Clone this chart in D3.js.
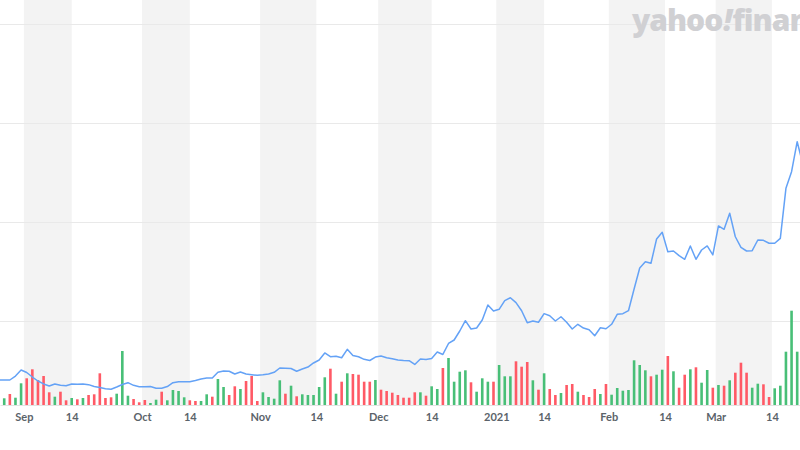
<!DOCTYPE html>
<html><head><meta charset="utf-8">
<script src="https://cdn.jsdelivr.net/npm/d3@7"></script>
<style>body{margin:0;background:#fff}svg{display:block}</style>
</head><body><svg id="c" width="800" height="450"></svg>
<script>
// Trading-day index 0 = 2020-08-25
const closePrice = [
 3.99,3.99,3.99,4.39,5.00,4.75,4.29,3.89,3.59,3.38,
 3.59,3.45,3.41,3.59,3.57,3.59,3.52,3.33,3.23,3.11,
 3.05,3.28,3.54,3.72,3.45,3.31,3.31,3.33,3.15,3.15,
 3.33,3.72,3.82,3.82,3.82,3.94,4.09,4.19,4.19,4.77,
 4.90,4.87,4.60,4.80,4.60,4.53,4.46,4.52,4.60,4.77,
 5.20,5.17,5.15,4.87,5.10,5.30,5.71,6.01,6.72,6.34,
 6.38,6.24,7.09,6.46,6.34,6.08,5.96,6.31,6.41,6.24,
 6.14,6.01,5.96,5.94,5.56,6.11,6.06,6.16,6.82,6.57,
 7.68,8.03,8.94,9.98,9.14,9.24,10.05,11.57,10.96,11.13,
 12.00,12.30,11.80,10.99,9.78,9.95,9.82,10.69,10.48,9.95,
 10.38,9.82,9.14,9.62,9.24,9.07,8.46,9.27,9.17,9.62,
 10.63,10.69,10.99,13.18,15.30,15.94,15.78,18.23,18.91,16.95,
 17.02,16.55,16.18,17.53,16.18,17.12,17.53,16.62,19.55,19.21,
 20.83,18.46,17.39,17.02,17.05,18.13,18.10,17.80,17.80,18.30,
 23.35,25.03,28.06,25.81
];
const volume = [
 8,6.7,11,7.3,21.7,26.7,35.7,25,29,12.7,
 8.3,13.3,4.7,7,5.7,7,10,10.7,31.7,7,
 7.7,11.3,54,9.3,6,2.7,5,2,5.3,13.3,
 4.7,15,14,7.7,4.7,4,4,10.7,8.3,26,
 18,10,18.7,16,24,29,4,12.7,8,6.3,
 24.7,11.3,19.3,8.7,10.7,10,10,18,27.7,36.3,
 11.3,23.3,31.7,31,30.3,23.3,23.3,25,15.3,14,
 12.3,10,7.3,7.3,12.7,12.7,9.3,18.7,16,37,
 47,23.3,33.3,34.7,22.7,13.3,26.7,23.3,23.3,40,
 28.7,28.7,43.7,38.3,43,24.7,15.3,31.7,16,10,
 12,20,21,13.3,10,8,16,11,21,10.3,
 17,14.3,15,44.7,40,34.7,28.7,30.3,35.3,49,
 33.7,17.3,30.3,35.7,37.7,22.3,35,17.3,20,19.3,
 24.7,32.3,42.3,32.3,17.3,21.3,20.7,8,16.7,19.3,
 53.3,94.3,53.3,40
];
// 1 = up day (green), 0 = down day (red)
const volumeUp = [
 1,1,0,1,1,0,0,0,0,0,
 1,0,0,1,0,1,0,0,0,0,
 0,1,1,1,0,0,0,1,1,0,
 1,1,1,1,0,0,1,1,0,1,
 1,0,0,1,0,0,0,1,1,1,
 1,0,1,0,1,1,1,1,1,0,
 1,0,1,0,0,0,0,1,0,0,
 0,0,0,0,0,1,0,1,1,0,
 1,1,1,1,0,1,1,1,0,1,
 1,1,0,0,0,1,0,1,0,0,
 1,0,0,1,0,0,0,1,0,1,
 1,1,1,1,1,1,0,1,1,0,
 1,0,0,1,0,1,1,0,1,0,
 1,0,0,0,1,1,0,0,1,1,
 1,1,1,0
];
const tickLabels = ["Sep","14","Oct","14","Nov","14","Dec","14","2021","14","Feb","14","Mar","14"];
const tickIndex  = [4.5,13,25.5,34,46.5,56.5,67.5,77,88.5,97,108.5,118.5,127.5,137.5];
const priceGrid = [10,20,30,40];

const W = 800, H = 450;
const svg = d3.select("#c");
const x = d3.scaleLinear().domain([0.25, 142.5]).range([0, W]);
const y = d3.scaleLinear().domain([0, 40]).range([419.5, 23.5]);
const base = 405;
const yv = d3.scaleLinear().domain([0, 100]).range([base, base - 100]);

// shaded half-month bands
const bands = [];
for (let i = 0; i < tickIndex.length; i += 2) bands.push([tickIndex[i], tickIndex[i+1]]);
svg.append("g").selectAll("rect").data(bands).join("rect")
  .attr("x", d => x(d[0])).attr("width", d => x(d[1]) - x(d[0]))
  .attr("y", 0).attr("height", base).attr("fill", "#f3f3f3");

// grid
svg.append("g").selectAll("line").data(priceGrid).join("line")
  .attr("x1", 0).attr("x2", W).attr("y1", d => Math.round(y(d)) + 0.5).attr("y2", d => Math.round(y(d)) + 0.5)
  .attr("stroke", "#e9e9e9").attr("stroke-width", 1);

// logo (cut off at the right edge, as in the reference)
const logo = svg.append("text").attr("x", 632).attr("y", 31)
  .attr("font-family", "'Open Sans', Lato, sans-serif").attr("font-weight", 800)
  .attr("font-size", 30).attr("fill", "#d0d0d3").attr("letter-spacing", -1);
logo.append("tspan").text("yahoo");
logo.append("tspan").attr("font-style", "italic").attr("dx", 1).text("!");
logo.append("tspan").attr("dx", 1).text("finance");

// volume bars
const bw = 2.6;
svg.append("g").selectAll("rect").data(volume).join("rect")
  .attr("x", (d, i) => x(i) - bw / 2).attr("width", bw)
  .attr("y", d => yv(d)).attr("height", d => base - yv(d))
  .attr("fill", (d, i) => volumeUp[i] ? "#48bf77" : "#ff5a66");

// price line
svg.append("path").datum(closePrice)
  .attr("d", d3.line().x((d, i) => x(i)).y(d => y(d)))
  .attr("fill", "none").attr("stroke", "#64a2f6").attr("stroke-width", 1.5)
  .attr("stroke-linejoin", "round");

// axis
const ax = svg.append("g").attr("transform", `translate(0,${base})`)
  .call(d3.axisBottom(x).tickValues(tickIndex).tickSize(0)
        .tickFormat((d, i) => tickLabels[i]));
ax.select(".domain").attr("stroke", "#e3e3e3");
ax.selectAll("text").attr("font-family", "Lato, 'Open Sans', sans-serif")
  .attr("font-weight", 700).attr("font-size", 11).attr("fill", "#5b636a").attr("dy", "1.2em");
</script></body></html>
